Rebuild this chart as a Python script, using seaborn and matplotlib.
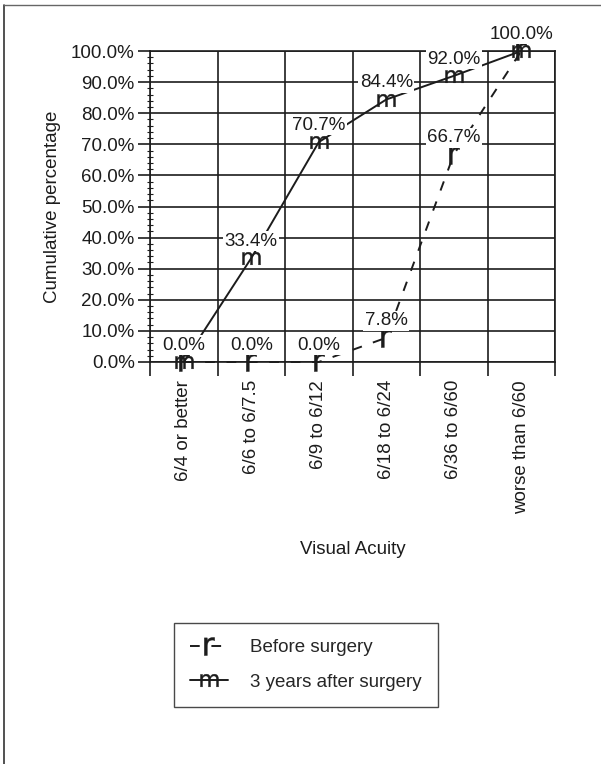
import pandas as pd
import matplotlib.pyplot as plt
import seaborn as sns
from matplotlib.ticker import MultipleLocator, FixedLocator, PercentFormatter
from matplotlib.lines import Line2D

categories = ["6/4 or better", "6/6 to 6/7.5", "6/9 to 6/12",
              "6/18 to 6/24", "6/36 to 6/60", "worse than 6/60"]
before = [0.0, 0.0, 0.0, 7.8, 66.7, 100.0]
after = [0.0, 33.4, 70.7, 84.4, 92.0, 100.0]
series_names = ["Before surgery", "3 years after surgery"]

df = pd.DataFrame({
    "pos": list(range(len(categories))) * 2,
    "Category": categories * 2,
    "Value": before + after,
    "Series": [series_names[0]] * len(before) + [series_names[1]] * len(after),
})

sns.set_style("white")
plt.rcParams['font.family'] = ['Liberation Sans', 'DejaVu Sans']
ink = "#1c1c1c"
fs = 13.5

fig = plt.figure(figsize=(6.01, 7.64), dpi=100)
ax = fig.add_axes([150 / 601, 1 - 362 / 764, 405 / 601, 311 / 764])

styles = {
    series_names[0]: dict(linestyle=(0, (5, 6)), marker=r'$\mathsf{r}$'),
    series_names[1]: dict(linestyle='-', marker=r'$\mathsf{m}$'),
}
mk = dict(markersize=13, markeredgewidth=0.3, markeredgecolor=ink, markerfacecolor=ink)
for name in series_names:
    sub = df[df["Series"] == name]
    sns.lineplot(data=sub, x="pos", y="Value", ax=ax, color=ink, lw=1.4,
                 label=name, clip_on=False, zorder=3, **mk, **styles[name])

# data labels with white boxes over lines and grid
for name in series_names:
    sub = df[df["Series"] == name]
    for x, v in zip(sub["pos"], sub["Value"]):
        ax.annotate(f"{v:.1f}%", (x, v), xytext=(0, 6), textcoords="offset points",
                    ha="center", va="bottom", fontsize=fs, color=ink, zorder=5,
                    annotation_clip=False,
                    bbox=dict(boxstyle="square,pad=0.08", fc="white", ec="none"))

ax.set_xlim(-0.5, len(categories) - 0.5)
ax.set_ylim(0, 100)

# y axis
ax.yaxis.set_major_locator(MultipleLocator(10))
ax.yaxis.set_minor_locator(MultipleLocator(2))
ax.yaxis.set_major_formatter(PercentFormatter(decimals=1))
ax.tick_params(axis="y", which="major", direction="out", length=9, width=1.2,
               color=ink, labelsize=fs, labelcolor=ink, pad=2, left=True)
ax.tick_params(axis="y", which="minor", direction="inout", length=5, width=0.8,
               color=ink, left=True)

# x axis: labels at centres, ticks at boundaries
ax.set_xticks(range(len(categories)))
ax.set_xticklabels(categories, rotation=90, ha="center", va="top")
ax.xaxis.set_minor_locator(FixedLocator([i - 0.5 for i in range(len(categories) + 1)]))
ax.tick_params(axis="x", which="major", length=0, labelsize=fs, labelcolor=ink, pad=13)
ax.tick_params(axis="x", which="minor", direction="out", length=10, width=1.2,
               color=ink, bottom=True)

ax.grid(False)
ax.yaxis.grid(True, which="major", color=ink, lw=1.2)
ax.xaxis.grid(True, which="minor", color=ink, lw=1.2)
ax.set_axisbelow(True)
for s in ax.spines.values():
    s.set_color(ink)
    s.set_linewidth(1.2)

ax.set_xlabel("Visual Acuity", fontsize=fs, color=ink, labelpad=20)
ax.set_ylabel("Cumulative percentage", fontsize=fs, color=ink, labelpad=7)

ax.get_legend().remove()
handles = [Line2D([], [], color=ink, lw=1.4, **mk, **styles[n]) for n in series_names]
leg = fig.legend(handles, series_names, loc="center", bbox_to_anchor=(306 / 601, 1 - 665 / 764),
                 fontsize=fs, frameon=True, fancybox=False, edgecolor=ink,
                 handlelength=2.0, borderpad=0.85, labelspacing=0.95, handletextpad=1.2)
leg.get_frame().set_linewidth(1.0)

# scan frame
fig.add_artist(Line2D([4 / 601, 4 / 601], [0, 1 - 5 / 764], transform=fig.transFigure,
                      color="#333333", lw=1.2))
fig.add_artist(Line2D([4 / 601, 1], [1 - 5 / 764, 1 - 5 / 764], transform=fig.transFigure,
                      color="#666666", lw=1.0))

plt.savefig("out.png", dpi=100)
